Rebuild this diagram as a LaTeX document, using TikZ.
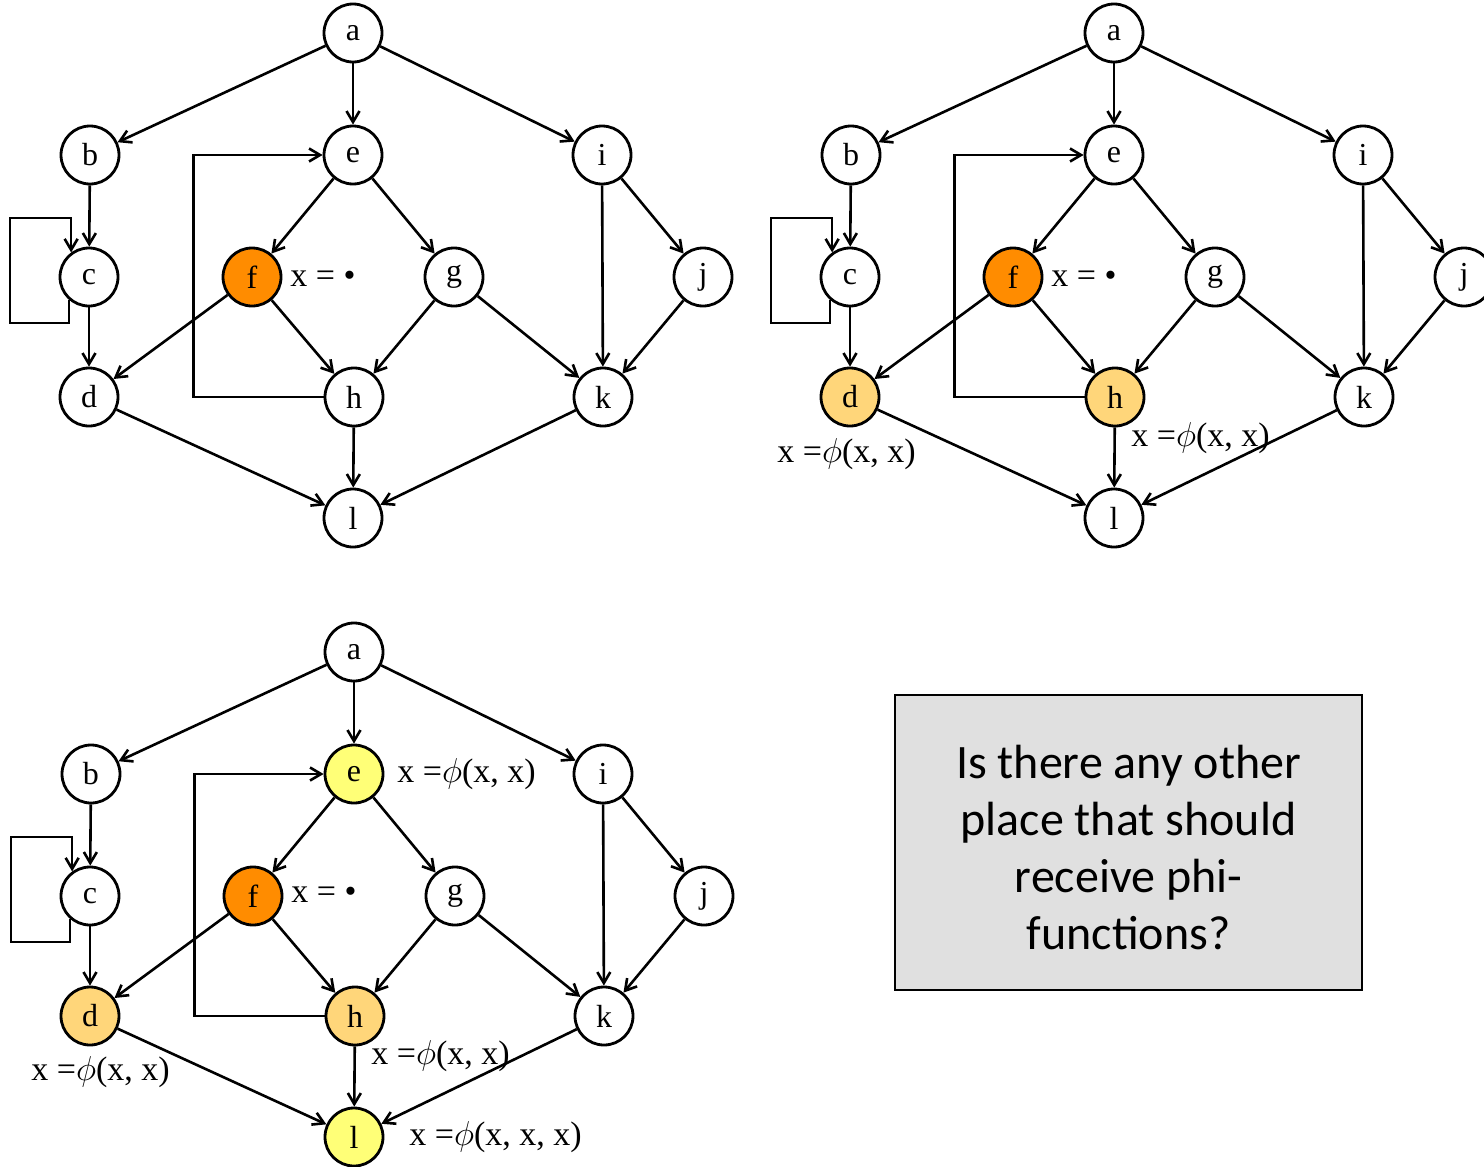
\documentclass[tikz,border=0pt]{standalone}
\usepackage{fontspec}
\setmainfont{Liberation Serif}
\newfontfamily\boxfont{Carlito}
\usetikzlibrary{arrows.meta}
\definecolor{fcol}{RGB}{255,140,0}
\definecolor{phicol}{RGB}{255,214,122}
\definecolor{ycol}{RGB}{255,255,119}
\definecolor{boxgray}{RGB}{224,224,224}
\tikzset{
  vtx/.style={circle,draw=black,line width=1.4pt,minimum size=29pt,inner sep=0pt,fill=white,font=\fontsize{16}{19}\selectfont},
  arr/.style={-{Straight Barb[length=5.5pt,width=6.5pt]},line width=1.3pt},
  lbl/.style={anchor=west,inner sep=0pt,font=\fontsize{17}{20}\selectfont},
  qbox/.style={draw=black,line width=1pt,fill=boxgray,minimum width=233.5pt,minimum height=147.5pt},
  qtext/.style={align=center,inner sep=0pt,font=\boxfont\fontsize{24}{28.5}\selectfont}
}
\newcommand\cfggraph[7]{%
\begin{scope}[shift={(#2,#3)}]
\node[vtx] (#1a) at (353,33) {a};
\node[vtx] (#1b) at (90,155) {b};
\node[vtx,fill=#5] (#1e) at (353,155) {e};
\node[vtx] (#1i) at (602,155) {i};
\node[vtx] (#1c) at (89,277) {c};
\node[vtx,fill=fcol] (#1f) at (252,277) {f};
\node[vtx] (#1g) at (454,277) {g};
\node[vtx] (#1j) at (703,277) {j};
\node[vtx,fill=#4] (#1d) at (89,397) {d};
\node[vtx,fill=#6] (#1h) at (354,397) {h};
\node[vtx] (#1k) at (603,397) {k};
\node[vtx,fill=#7] (#1l) at (353,518) {l};
\draw[arr] (#1a) -- (#1b);
\draw[arr] (#1a) -- (#1e);
\draw[arr] (#1a) -- (#1i);
\draw[arr] (#1b) -- (#1c);
\draw[arr] (#1c) -- (#1d);
\draw[arr] (#1c.229) -- ++(0,23) -- ++(-59,0) -- ++(0,-105) -| (#1c.126);
\draw[arr] (#1e) -- (#1f);
\draw[arr] (#1e) -- (#1g);
\draw[arr] (#1f) -- (#1d);
\draw[arr] (#1f) -- (#1h);
\draw[arr] (#1g) -- (#1h);
\draw[arr] (#1g) -- (#1k);
\draw[arr] (#1h.west) -- ++(-130,0) |- (#1e.west);
\draw[arr] (#1h) -- (#1l);
\draw[arr] (#1d) -- (#1l);
\draw[arr] (#1i) -- (#1k);
\draw[arr] (#1i) -- (#1j);
\draw[arr] (#1j) -- (#1k);
\draw[arr] (#1k) -- (#1l);
\end{scope}}
\begin{document}
\begin{tikzpicture}[x=0.5pt,y=-0.5pt]
\clip (0,0) rectangle (1484,1167);
\cfggraph{A}{0}{0}{white}{white}{white}{white}
\cfggraph{B}{761}{0}{phicol}{white}{phicol}{white}
\cfggraph{C}{1}{619}{phicol}{ycol}{phicol}{ycol}
\node[lbl] (la) at (290,279) {x = \textbullet};
\node[lbl] (lb) at (1051,279) {x = \textbullet};
\node[lbl] (lc) at (777,454) {x =$\phi$(x, x)};
\node[lbl] (ld) at (1131,438) {x =$\phi$(x, x)};
\node[lbl] (le) at (291,895) {x = \textbullet};
\node[lbl] (lf) at (397,774) {x =$\phi$(x, x)};
\node[lbl] (lg) at (31,1072) {x =$\phi$(x, x)};
\node[lbl] (lh) at (371,1056) {x =$\phi$(x, x)};
\node[lbl] (li) at (409,1137) {x =$\phi$(x, x, x)};
\node[qbox] (q) at (1128.5,842.5) {};
\node[qtext] (qt) at (1128.5,848) {Is there any other\\place that should\\receive phi-\\functions?};
\end{tikzpicture}
\end{document}
